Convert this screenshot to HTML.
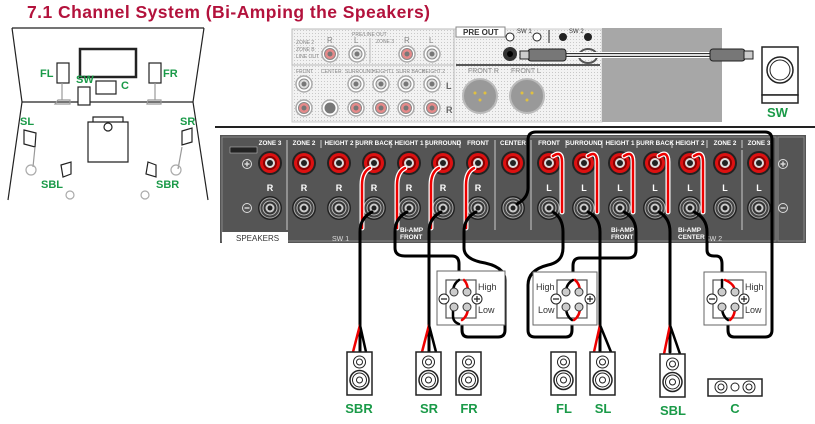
<!DOCTYPE html>
<html><head><meta charset="utf-8"><style>
html,body{margin:0;padding:0;background:#fff;width:815px;height:424px;overflow:hidden}
svg{display:block;font-family:"Liberation Sans",sans-serif}
</style></head><body>
<svg width="815" height="424" viewBox="0 0 815 424" xmlns="http://www.w3.org/2000/svg">
<defs>
<pattern id="dot" width="3" height="3" patternUnits="userSpaceOnUse"><rect width="3" height="3" fill="#f2f2f2"/><rect width="1" height="1" fill="#c8c8c8"/></pattern>
<g id="pp"><circle r="12" fill="#222"/><circle r="10" fill="#d11"/><circle r="7" fill="#8a0000"/><circle r="5" fill="#ddd"/><circle r="3" fill="#222"/></g>
<g id="pm"><circle r="12" fill="#222"/><circle r="10" fill="#444" stroke="#aaa" stroke-width="1"/><circle r="7" fill="#333" stroke="#bbb" stroke-width="1"/><circle r="4.5" fill="#ccc"/><circle r="2.5" fill="#222"/></g>
<g id="spk"><rect x="0" y="0" width="25" height="43" fill="#fff" stroke="#222" stroke-width="1.5"/><circle cx="12.5" cy="10" r="6" fill="none" stroke="#222"/><circle cx="12.5" cy="10" r="3" fill="none" stroke="#222"/><circle cx="12.5" cy="28" r="9.5" fill="none" stroke="#222" stroke-width="1.5"/><circle cx="12.5" cy="28" r="7" fill="none" stroke="#222"/><circle cx="12.5" cy="28" r="3" fill="none" stroke="#222"/></g>
<g id="jw"><circle r="8" fill="#fff" stroke="#aaa" stroke-width="1.5"/><circle r="5" fill="#ddd" stroke="#888"/><circle r="2.5" fill="#777"/></g>
<g id="jr"><circle r="8" fill="#fff" stroke="#aaa" stroke-width="1.5"/><circle r="5.5" fill="#e58a8a" stroke="#888"/><circle r="2.5" fill="#777"/></g>
<g id="bx"><rect x="0" y="0" width="30" height="38" fill="#fff" stroke="#555" stroke-width="1.2"/></g>
</defs>

<text x="27" y="18" font-size="17.5" font-weight="bold" fill="#b3123c" textLength="403">7.1 Channel System (Bi-Amping the Speakers)</text>

<!-- room -->
<g fill="none" stroke="#222" stroke-width="1.2">
<path d="M12 28 H204 M12 28 L22 102 L193 102 L204 28 M22 102 L8 200 M193 102 L208 200"/>
<rect x="80" y="49" width="56" height="28" stroke-width="2.5"/>
<rect x="96" y="81" width="20" height="13" fill="#fff"/>
<rect x="78" y="87" width="12" height="18" fill="#fff"/>
<rect x="57" y="63" width="12" height="20" fill="#fff"/>
<rect x="149" y="63" width="12" height="20" fill="#fff"/>
<path d="M62 83 V100 M58 100 H70 V104 H55Z M155 83 V100 M148 100 H161 V104 H147Z" stroke="#999"/>
<path d="M88 122 h40 v40 h-40z M93 122 v-5 h30 v5" stroke-width="1.2"/>
<circle cx="108" cy="127" r="4"/>
<path d="M24 130 l12 3 l-1 14 l-11 -3z M182 131 l10 -3 v14 l-10 3z M61 165 l10 -3 v12 l-8 3z M148 162 l8 3 v12 l-10 -3z"/>
<path d="M35 147 l-2 20 M182 147 l-4 22" stroke="#999"/>
<circle cx="31" cy="170" r="5" stroke="#aaa"/><circle cx="176" cy="170" r="5" stroke="#aaa"/>
<circle cx="70" cy="195" r="4" stroke="#aaa"/><circle cx="145" cy="195" r="4" stroke="#aaa"/>
</g>
<g font-size="11" font-weight="bold" fill="#1a9a48">
<text x="40" y="77">FL</text><text x="76" y="83">SW</text><text x="121" y="89">C</text>
<text x="163" y="77">FR</text><text x="20" y="125">SL</text><text x="180" y="125">SR</text>
<text x="41" y="188">SBL</text><text x="156" y="188">SBR</text>
</g>

<!-- top panel -->
<rect x="292" y="29" width="310" height="93" fill="url(#dot)" stroke="#ccc"/>
<rect x="292" y="29" width="162" height="36" fill="none" stroke="#bbb"/>
<line x1="454" y1="29" x2="454" y2="122" stroke="#bbb"/>
<line x1="370" y1="38" x2="370" y2="63" stroke="#bbb"/>
<rect x="602" y="28" width="120" height="94" fill="#a7a7a7"/>
<g font-size="5" fill="#888">
<text x="352" y="36">PRE/LINE OUT</text><text x="296" y="44">ZONE 2</text><text x="296" y="51">ZONE B</text><text x="296" y="58">LINE OUT</text>
<text x="376" y="43">ZONE 3</text><text x="327" y="43" font-size="8">R</text><text x="354" y="43" font-size="8">L</text><text x="404" y="43" font-size="8">R</text><text x="429" y="43" font-size="8">L</text>
<text x="296" y="73">FRONT</text><text x="321" y="73">CENTER</text><text x="345" y="73">SURROUND</text><text x="372" y="73">HEIGHT1</text><text x="396" y="73">SURR BACK</text><text x="422" y="73">HEIGHT 2</text>
<text x="468" y="73" font-size="7">FRONT R</text><text x="511" y="73" font-size="7">FRONT L</text>
</g>
<text x="446" y="89" font-size="9" font-weight="bold" fill="#666">L</text><text x="446" y="113" font-size="9" font-weight="bold" fill="#666">R</text>
<use href="#jr" x="330" y="54"/><use href="#jw" x="357" y="54"/><use href="#jr" x="407" y="54"/><use href="#jw" x="432" y="54"/>
<use href="#jw" x="304" y="84"/><use href="#jw" x="356" y="84"/><use href="#jw" x="381" y="84"/><use href="#jw" x="406" y="84"/><use href="#jw" x="432" y="84"/>
<use href="#jr" x="304" y="108"/><circle cx="330" cy="108" r="8" fill="#fff" stroke="#aaa" stroke-width="1.5"/><circle cx="330" cy="108" r="5.5" fill="#777"/><use href="#jr" x="356" y="108"/><use href="#jr" x="381" y="108"/><use href="#jr" x="406" y="108"/><use href="#jr" x="432" y="108"/>
<circle cx="480" cy="96" r="17" fill="#999" stroke="#bbb" stroke-width="2"/><circle cx="527" cy="96" r="17" fill="#999" stroke="#bbb" stroke-width="2"/>
<g fill="#e0c040"><circle cx="475" cy="93" r="1.5"/><circle cx="485" cy="93" r="1.5"/><circle cx="480" cy="100" r="1.5"/><circle cx="522" cy="93" r="1.5"/><circle cx="532" cy="93" r="1.5"/><circle cx="527" cy="100" r="1.5"/></g>
<rect x="456" y="27" width="49" height="10" fill="#fff" stroke="#888"/>
<text x="463" y="35" font-size="8" font-weight="bold" fill="#333">PRE OUT</text>
<text x="517" y="33" font-size="6" fill="#333">SW 1</text><text x="569" y="33" font-size="6" fill="#333">SW 2</text>
<line x1="549" y1="30" x2="549" y2="43" stroke="#222"/>
<circle cx="510" cy="37" r="4" fill="#fff" stroke="#222"/><circle cx="537" cy="37" r="4" fill="#fff" stroke="#222"/><circle cx="563" cy="37" r="4" fill="#222"/><circle cx="588" cy="37" r="4" fill="#222"/>
<line x1="456" y1="65" x2="600" y2="65" stroke="#222" stroke-width="1.5"/>
<circle cx="510" cy="54" r="7" fill="#333"/><circle cx="510" cy="54" r="3" fill="#000"/>
<ellipse cx="588" cy="56" rx="9" ry="7" fill="none" stroke="#555" stroke-width="2"/>
<line x1="560" y1="55" x2="740" y2="55" stroke="#fff" stroke-width="6"/>
<line x1="560" y1="55" x2="740" y2="55" stroke="#333" stroke-width="4"/>
<line x1="560" y1="55" x2="740" y2="55" stroke="#ddd" stroke-width="2"/>
<rect x="528" y="49" width="38" height="12" rx="3" fill="#777" stroke="#222"/><rect x="520" y="51" width="9" height="8" fill="#ccc" stroke="#222"/>
<rect x="710" y="49" width="35" height="12" rx="3" fill="#777" stroke="#222"/><rect x="744" y="51" width="9" height="8" fill="#ccc" stroke="#222"/>
<!-- SW -->
<rect x="762" y="47" width="36" height="48" fill="#fff" stroke="#222" stroke-width="1.5"/>
<rect x="762" y="95" width="36" height="8" fill="#fff" stroke="#222" stroke-width="1.5"/>
<circle cx="780" cy="70" r="13" fill="none" stroke="#222" stroke-width="1.5"/><circle cx="780" cy="70" r="10" fill="none" stroke="#222"/>
<text x="767" y="117" font-size="13" font-weight="bold" fill="#1a9a48">SW</text>

<line x1="215" y1="127" x2="815" y2="127" stroke="#222" stroke-width="2"/>

<!-- speaker panel -->
<rect x="220" y="135" width="586" height="108" fill="#555"/>
<rect x="222" y="137" width="554" height="104" fill="none" stroke="#888"/>
<rect x="778" y="137" width="26" height="104" fill="none" stroke="#888"/>
<rect x="222" y="232" width="66" height="11" fill="#fff"/>
<text x="236" y="241" font-size="8" fill="#333">SPEAKERS</text>
<text x="332" y="241" font-size="7" fill="#ddd">SW 1</text><text x="705" y="241" font-size="7" fill="#ddd">SW 2</text>
<rect x="230" y="147" width="27" height="6" fill="#222" stroke="#ccc" stroke-width=".5"/>
<g fill="none" stroke="#ddd"><circle cx="247" cy="164" r="4.5"/><circle cx="247" cy="208" r="4.5"/><circle cx="783" cy="164" r="4.5"/><circle cx="783" cy="208" r="4.5"/></g>
<g fill="#ddd"><rect x="244.5" y="163.3" width="5" height="1.4"/><rect x="246.3" y="161.5" width="1.4" height="5"/><rect x="780.5" y="163.3" width="5" height="1.4"/><rect x="782.3" y="161.5" width="1.4" height="5"/><rect x="244.5" y="207.3" width="5" height="1.4"/><rect x="780.5" y="207.3" width="5" height="1.4"/></g>
<g stroke="#ccc" stroke-width="1">
<line x1="287" y1="140" x2="287" y2="148"/><line x1="321" y1="140" x2="321" y2="148"/><line x1="356" y1="140" x2="356" y2="148"/><line x1="391" y1="140" x2="391" y2="148"/><line x1="426" y1="140" x2="426" y2="148"/><line x1="460" y1="140" x2="460" y2="148"/><line x1="566" y1="140" x2="566" y2="148"/><line x1="602" y1="140" x2="602" y2="148"/><line x1="637" y1="140" x2="637" y2="148"/><line x1="672" y1="140" x2="672" y2="148"/><line x1="707" y1="140" x2="707" y2="148"/><line x1="742" y1="140" x2="742" y2="148"/>
<line x1="287" y1="140" x2="287" y2="230"/><line x1="495" y1="140" x2="495" y2="230"/><line x1="531" y1="140" x2="531" y2="230"/><line x1="742" y1="150" x2="742" y2="230"/>
</g>
<g font-size="6.3" font-weight="bold" fill="#fff" text-anchor="middle">
<text x="270" y="145">ZONE 3</text><text x="304" y="145">ZONE 2</text><text x="339" y="145">HEIGHT 2</text><text x="374" y="145">SURR BACK</text><text x="409" y="145">HEIGHT 1</text><text x="443" y="145">SURROUND</text><text x="478" y="145">FRONT</text><text x="513" y="145">CENTER</text><text x="549" y="145">FRONT</text><text x="584" y="145">SURROUND</text><text x="620" y="145">HEIGHT 1</text><text x="655" y="145">SURR BACK</text><text x="690" y="145">HEIGHT 2</text><text x="725" y="145">ZONE 2</text><text x="759" y="145">ZONE 3</text>
</g>
<g font-size="9" font-weight="bold" fill="#fff" text-anchor="middle">
<text x="270" y="191">R</text><text x="304" y="191">R</text><text x="339" y="191">R</text><text x="374" y="191">R</text><text x="409" y="191">R</text><text x="443" y="191">R</text><text x="478" y="191">R</text><text x="549" y="191">L</text><text x="584" y="191">L</text><text x="620" y="191">L</text><text x="655" y="191">L</text><text x="690" y="191">L</text><text x="725" y="191">L</text><text x="759" y="191">L</text>
</g>
<g font-size="6.5" font-weight="bold" fill="#fff">
<text x="400" y="232">Bi-AMP</text><text x="400" y="239">FRONT</text><text x="611" y="232">Bi-AMP</text><text x="611" y="239">FRONT</text><text x="678" y="232">Bi-AMP</text><text x="678" y="239">CENTER</text>
</g>
<g>
<use href="#pp" x="270" y="163"/><use href="#pp" x="304" y="163"/><use href="#pp" x="339" y="163"/><use href="#pp" x="374" y="163"/><use href="#pp" x="409" y="163"/><use href="#pp" x="443" y="163"/><use href="#pp" x="478" y="163"/><use href="#pp" x="513" y="163"/><use href="#pp" x="549" y="163"/><use href="#pp" x="584" y="163"/><use href="#pp" x="620" y="163"/><use href="#pp" x="655" y="163"/><use href="#pp" x="690" y="163"/><use href="#pp" x="725" y="163"/><use href="#pp" x="759" y="163"/>
<use href="#pm" x="270" y="208"/><use href="#pm" x="304" y="208"/><use href="#pm" x="339" y="208"/><use href="#pm" x="374" y="208"/><use href="#pm" x="409" y="208"/><use href="#pm" x="443" y="208"/><use href="#pm" x="478" y="208"/><use href="#pm" x="513" y="208"/><use href="#pm" x="549" y="208"/><use href="#pm" x="584" y="208"/><use href="#pm" x="620" y="208"/><use href="#pm" x="655" y="208"/><use href="#pm" x="690" y="208"/><use href="#pm" x="725" y="208"/><use href="#pm" x="759" y="208"/>
</g>

<g fill="none" stroke-linecap="round" stroke-linejoin="round">
<g stroke="#fff" stroke-width="5">
<path d="M370 168 Q362 172 362 185 V228"/><path d="M405 168 Q397 172 397 185 V228"/><path d="M439 168 Q431 172 431 185 V228"/><path d="M474 168 Q466 172 466 185 V228"/>
<path d="M553 156 Q562 150 562 162 V212"/><path d="M588 156 Q597 150 597 162 V212"/><path d="M624 156 Q633 150 633 162 V212"/><path d="M659 156 Q668 150 668 162 V212"/><path d="M694 156 Q703 150 703 162 V212"/>
</g>
<g stroke="#e00" stroke-width="2.5">
<path d="M370 168 Q362 172 362 185 V228"/><path d="M405 168 Q397 172 397 185 V228"/><path d="M439 168 Q431 172 431 185 V228"/><path d="M474 168 Q466 172 466 185 V228"/>
<path d="M553 156 Q562 150 562 162 V212"/><path d="M588 156 Q597 150 597 162 V212"/><path d="M624 156 Q633 150 633 162 V212"/><path d="M659 156 Q668 150 668 162 V212"/><path d="M694 156 Q703 150 703 162 V212"/>
</g>
<g stroke="#000" stroke-width="3">
<path d="M372 212 Q360 218 360 232 V352"/>
<path d="M407 212 Q395 218 395 232 V248 Q395 256 405 256 H452 Q459 256 459 264 V282"/>
<path d="M441 212 Q429 218 429 232 V352"/>
<path d="M476 212 Q464 218 464 232 V248 Q464 258 480 262 Q505 266 505 280 V330 Q505 337 498 337 H468 Q462 337 462 330 V312"/>
<path d="M517 204 Q528 198 528 188 V140 Q528 132 536 132 H765 Q772 132 772 140 V330 Q772 337 765 337 H734 Q728 337 728 330 V312"/>
<path d="M553 212 Q563 218 563 232 V248 Q563 262 548 265 Q528 270 528 285 V330 Q528 337 535 337 H566 Q572 337 572 330 V312"/>
<path d="M588 212 Q600 218 600 232 V352"/>
<path d="M624 212 Q636 218 636 232 V250 Q636 258 628 258 H580 Q573 258 573 266 V282"/>
<path d="M659 212 Q670 218 670 232 V352"/>
<path d="M694 212 Q707 218 707 232 V250 Q707 256 714 256 H716 Q722 256 722 264 V282"/>
</g>
</g>

<g font-size="9" fill="#333">
<rect x="437" y="271" width="68" height="54" fill="#fff" stroke="#666"/>
<use href="#bx" x="446" y="280"/>
<rect x="533" y="272" width="64" height="53" fill="#fff" stroke="#666"/>
<use href="#bx" x="557" y="280"/>
<rect x="704" y="272" width="62" height="53" fill="#fff" stroke="#666"/>
<use href="#bx" x="713" y="280"/>
<text x="478" y="290">High</text><text x="478" y="313">Low</text>
<text x="536" y="290">High</text><text x="538" y="313">Low</text>
<text x="745" y="290">High</text><text x="745" y="313">Low</text>
</g>
<g fill="none" stroke-width="2.5" stroke-linecap="round">
<path d="M459 280 Q453 284 453 292 M453 307 V316 Q453 322 459 324" stroke="#000"/>
<path d="M464 280 Q468 284 468 292 M468 307 Q468 316 462 320" stroke="#e00"/>
<path d="M573 280 Q566 284 566 292 M566 307 Q566 316 572 320" stroke="#000"/>
<path d="M575 280 Q580 284 580 292 M580 307 Q580 316 574 320" stroke="#e00"/>
<path d="M722 280 Q722 284 722 292 M722 307 Q722 316 728 320" stroke="#000"/>
<path d="M725 280 Q735 284 735 292 M735 307 Q735 316 730 320" stroke="#e00"/>
</g>
<g fill="#ccc" stroke="#333">
<circle cx="454" cy="292" r="4"/><circle cx="467" cy="292" r="4"/><circle cx="454" cy="307" r="4"/><circle cx="467" cy="307" r="4"/>
<circle cx="566" cy="292" r="4"/><circle cx="579" cy="292" r="4"/><circle cx="566" cy="307" r="4"/><circle cx="579" cy="307" r="4"/>
<circle cx="722" cy="292" r="4"/><circle cx="735" cy="292" r="4"/><circle cx="722" cy="307" r="4"/><circle cx="735" cy="307" r="4"/>
</g>
<g fill="#fff" stroke="#222">
<circle cx="444" cy="299" r="5"/><circle cx="477" cy="299" r="5"/>
<circle cx="556" cy="299" r="5"/><circle cx="590" cy="299" r="5"/>
<circle cx="712" cy="299" r="5"/><circle cx="744" cy="299" r="5"/>
</g>
<g stroke="#222" stroke-width="1.2">
<path d="M441 299h6 M474 299h6 M477 296v6 M553 299h6 M587 299h6 M590 296v6 M709 299h6 M741 299h6 M744 296v6"/>
</g>

<g fill="none" stroke-width="2.5">
<path d="M360 325 L353 352" stroke="#e00"/><path d="M360 325 L366 352" stroke="#000"/>
<path d="M429 325 L422 352" stroke="#e00"/><path d="M429 325 L436 352" stroke="#000"/>
<path d="M600 325 L594 352" stroke="#e00"/><path d="M600 325 L611 352" stroke="#000"/>
<path d="M670 325 L664 354" stroke="#e00"/><path d="M670 325 L680 354" stroke="#000"/>
</g>
<use href="#spk" x="347" y="352"/><use href="#spk" x="416" y="352"/><use href="#spk" x="456" y="352"/>
<use href="#spk" x="551" y="352"/><use href="#spk" x="590" y="352"/><use href="#spk" x="660" y="354"/>
<rect x="708" y="379" width="54" height="17" fill="#fff" stroke="#222" stroke-width="1.5"/>
<g fill="none" stroke="#222"><circle cx="721" cy="387" r="6"/><circle cx="721" cy="387" r="3"/><circle cx="735" cy="387" r="4"/><circle cx="749" cy="387" r="6"/><circle cx="749" cy="387" r="3"/></g>
<g font-size="13" font-weight="bold" fill="#1a9a48" text-anchor="middle">
<text x="359" y="413">SBR</text><text x="429" y="413">SR</text><text x="469" y="413">FR</text>
<text x="564" y="413">FL</text><text x="603" y="413">SL</text><text x="673" y="415">SBL</text><text x="735" y="413">C</text>
</g>
</svg>
</body></html>
